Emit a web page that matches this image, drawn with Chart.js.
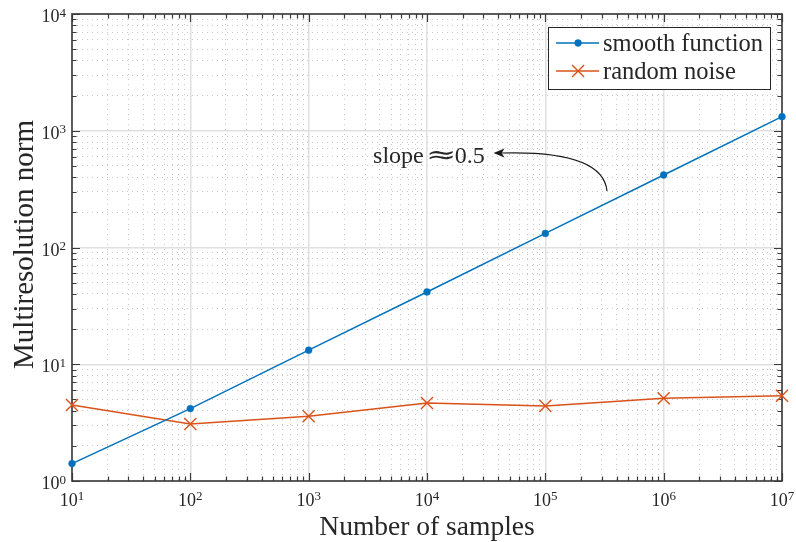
<!DOCTYPE html>
<html>
<head>
<meta charset="utf-8">
<script src="https://cdn.jsdelivr.net/npm/chart.js@4/dist/chart.umd.min.js"></script>
<style>
  html, body { margin: 0; padding: 0; background: #fff; }
  #wrap { width: 796px; height: 542px; }
</style>
</head>
<body>
<div id="wrap"><canvas id="c" width="796" height="542"></canvas></div>
<script>
// Multiresolution norm versus number of samples
const sampleCounts = [1e1, 1e2, 1e3, 1e4, 1e5, 1e6, 1e7];
const smoothNorm = [1.41, 4.17, 13.2, 41.6, 132, 418, 1320];
const noiseNorm = [4.48, 3.08, 3.58, 4.66, 4.40, 5.11, 5.38];
const seriesNames = ['smooth function', 'random noise'];
const xTickExponents = [1, 2, 3, 4, 5, 6, 7];
const yTickExponents = [0, 1, 2, 3, 4];
const xTitle = 'Number of samples';
const yTitle = 'Multiresolution norm';
const slopeWords = ['slope', '\u2248', '0.5'];

// annotation anchors in data coordinates
const slopeLabelAt = { x: 3500, y: 530 };
const slopeArrowFrom = { x: 3.32e5, y: 305 };
const slopeArrowTo = { x: 3.65e4, y: 645 };

const INK = '#262626';
const SERIF = '"Liberation Serif", "Times New Roman", serif';
const BLUE = '#0072BD';
const RED = '#D95319';

const pow10 = e => Math.pow(10, e);
function decadeMinors(exps) {
  const out = [];
  for (let i = 0; i < exps.length - 1; i++) {
    for (let m = 2; m <= 9; m++) out.push(m * pow10(exps[i]));
  }
  return out;
}
const xMajor = xTickExponents.map(pow10);
const yMajor = yTickExponents.map(pow10);
const xMinor = decadeMinors(xTickExponents);
const yMinor = decadeMinors(yTickExponents);

function logAxis(vals, lo, hi, opts) {
  return Object.assign({
    type: 'logarithmic',
    min: lo,
    max: hi,
    afterBuildTicks: s => { s.ticks = vals.map(v => ({ value: v })); },
    ticks: { display: false },
  }, opts);
}

function drawMarker(ctx, ds, x, y) {
  ctx.save();
  ctx.fillStyle = ds.pointBackgroundColor;
  ctx.strokeStyle = ds.borderColor;
  ctx.lineWidth = ds.pointBorderWidth;
  Chart.helpers.drawPoint(ctx, {
    pointStyle: ds.pointStyle, radius: ds.pointRadius, borderWidth: ds.pointBorderWidth, rotation: 0
  }, x, y);
  ctx.restore();
}

// inward tick marks, axes box, tick labels, titles and legend
const framePlugin = {
  id: 'frame',
  beforeDatasetsDraw(chart) {
    const { ctx, chartArea: a, scales } = chart;
    ctx.save();
    ctx.strokeStyle = '#3a3a3a';
    ctx.lineWidth = 1.2;
    ctx.beginPath();
    const vTicks = (vals, len) => vals.forEach(v => {
      const p = Math.round(scales.x.getPixelForValue(v)) + 0.5;
      ctx.moveTo(p, a.bottom); ctx.lineTo(p, a.bottom - len);
      ctx.moveTo(p, a.top); ctx.lineTo(p, a.top + len);
    });
    const hTicks = (vals, len) => vals.forEach(v => {
      const p = Math.round(scales.y.getPixelForValue(v)) + 0.5;
      ctx.moveTo(a.left, p); ctx.lineTo(a.left + len, p);
      ctx.moveTo(a.right, p); ctx.lineTo(a.right - len, p);
    });
    vTicks(xMajor, 8); vTicks(xMinor, 4.5);
    hTicks(yMajor, 8); hTicks(yMinor, 4.5);
    ctx.stroke();
    ctx.lineWidth = 1.6;
    ctx.strokeRect(a.left, a.top, a.right - a.left, a.bottom - a.top);
    ctx.restore();
  },
  afterDraw(chart) {
    const { ctx, chartArea: a, scales } = chart;
    ctx.save();
    ctx.fillStyle = INK;
    ctx.textBaseline = 'alphabetic';
    const baseFont = '18px ' + SERIF;
    const expFont = '13px ' + SERIF;
    const measure = (t, f) => { ctx.font = f; return ctx.measureText(t).width; };

    // x tick labels: 10 with raised exponent, centred on the tick
    xTickExponents.forEach(e => {
      const px = scales.x.getPixelForValue(pow10(e));
      const wb = measure('10', baseFont), we = measure(String(e), expFont);
      const x0 = px - (wb + we) / 2;
      ctx.textAlign = 'left';
      ctx.font = baseFont; ctx.fillText('10', x0, a.bottom + 25);
      ctx.font = expFont; ctx.fillText(String(e), x0 + wb, a.bottom + 19);
    });
    // y tick labels, right aligned left of the axis
    yTickExponents.forEach(e => {
      const py = scales.y.getPixelForValue(pow10(e));
      const we = measure(String(e), expFont);
      const xr = a.left - 6;
      ctx.textAlign = 'right';
      ctx.font = expFont; ctx.fillText(String(e), xr, py + 2.5);
      ctx.font = baseFont; ctx.fillText('10', xr - we, py + 8);
    });

    // axis titles
    ctx.textAlign = 'center';
    ctx.font = '27.5px ' + SERIF;
    ctx.fillText(xTitle, (a.left + a.right) / 2, a.bottom + 54);
    ctx.save();
    ctx.font = '29px ' + SERIF;
    ctx.translate(33, (a.top + a.bottom) / 2 - 3);
    ctx.rotate(-Math.PI / 2);
    ctx.fillText(yTitle, 0, 0);
    ctx.restore();

    // legend box
    const lf = '24.5px ' + SERIF;
    const tw = Math.max(...seriesNames.map(n => measure(n, lf)));
    const bw = 55 + tw + 7, bh = 62;
    const bx = a.right - 12 - bw, by = a.top + 13;
    ctx.fillStyle = '#fff';
    ctx.fillRect(bx, by, bw, bh);
    ctx.strokeStyle = '#262626';
    ctx.lineWidth = 1;
    ctx.strokeRect(Math.round(bx) + 0.5, Math.round(by) + 0.5, Math.round(bw), bh);
    chart.data.datasets.forEach((ds, i) => {
      const ly = by + 16 + i * 28;
      ctx.strokeStyle = ds.borderColor;
      ctx.lineWidth = ds.borderWidth;
      ctx.beginPath();
      ctx.moveTo(bx + 8, ly); ctx.lineTo(bx + 51, ly);
      ctx.stroke();
      drawMarker(ctx, ds, bx + 30, ly);
      ctx.fillStyle = INK;
      ctx.font = lf;
      ctx.textAlign = 'left';
      ctx.fillText(ds.label, bx + 55, ly + 8);
    });
    ctx.restore();
  }
};

// "slope ≈ 0.5" note with a curved arrow pointing at it
const notePlugin = {
  id: 'note',
  afterDatasetsDraw(chart) {
    const { ctx, scales } = chart;
    const px = p => ({ x: scales.x.getPixelForValue(p.x), y: scales.y.getPixelForValue(p.y) });
    const lab = px(slopeLabelAt);
    const from = px(slopeArrowFrom);
    const to = px(slopeArrowTo);
    ctx.save();
    ctx.fillStyle = INK;
    ctx.textAlign = 'left';
    ctx.textBaseline = 'alphabetic';
    const f = '24px ' + SERIF;
    ctx.font = f;
    ctx.fillText(slopeWords[0], lab.x, lab.y);
    let x = lab.x + ctx.measureText(slopeWords[0]).width + 5;
    // wide approximately-equal sign
    ctx.font = '25px "DejaVu Serif", serif';
    const m = ctx.measureText(slopeWords[1]);
    const inkW = m.actualBoundingBoxRight + m.actualBoundingBoxLeft;
    const sx = 25 / inkW;
    ctx.save();
    ctx.translate(x + m.actualBoundingBoxLeft * sx, lab.y - 8 + (m.actualBoundingBoxAscent - m.actualBoundingBoxDescent) / 2);
    ctx.scale(sx, 1);
    ctx.fillText(slopeWords[1], 0, 0);
    ctx.restore();
    x += 26;
    ctx.font = f;
    ctx.fillText(slopeWords[2], x, lab.y);

    // arrow
    ctx.strokeStyle = '#1a1a1a';
    ctx.fillStyle = '#1a1a1a';
    ctx.lineWidth = 1.2;
    ctx.beginPath();
    ctx.moveTo(from.x, from.y);
    ctx.quadraticCurveTo(from.x - 4, to.y - 3, to.x + 7, to.y);
    ctx.stroke();
    ctx.beginPath();
    ctx.moveTo(to.x, to.y);
    ctx.lineTo(to.x + 11, to.y - 4.5);
    ctx.lineTo(to.x + 8, to.y);
    ctx.lineTo(to.x + 11, to.y + 4.5);
    ctx.closePath();
    ctx.fill();
    ctx.restore();
  }
};

const pts = ys => sampleCounts.map((x, i) => ({ x, y: ys[i] }));

new Chart(document.getElementById('c'), {
  type: 'line',
  data: {
    datasets: [
      {
        label: seriesNames[0],
        data: pts(smoothNorm),
        borderColor: BLUE,
        backgroundColor: BLUE,
        pointBackgroundColor: BLUE,
        borderWidth: 1.5,
        pointStyle: 'circle',
        pointRadius: 3.4,
        pointBorderWidth: 0.5,
        clip: false,
        tension: 0,
      },
      {
        label: seriesNames[1],
        data: pts(noiseNorm),
        borderColor: RED,
        backgroundColor: RED,
        pointBackgroundColor: RED,
        borderWidth: 1.5,
        pointStyle: 'crossRot',
        pointRadius: 8.5,
        pointBorderWidth: 1.4,
        clip: false,
        tension: 0,
      }
    ]
  },
  options: {
    responsive: false,
    animation: false,
    devicePixelRatio: 1,
    layout: { padding: { left: 0, right: 14, top: 14, bottom: 0 } },
    plugins: { legend: { display: false }, tooltip: { enabled: false } },
    events: [],
    scales: {
      xMinor: logAxis(xMinor, 10, 1e7, {
        position: 'bottom',
        afterFit: s => { s.height = 0; },
        grid: { color: '#c8c8c8', lineWidth: 1, drawTicks: false },
        border: { display: false, dash: [1, 4] },
      }),
      yMinor: logAxis(yMinor, 1, 1e4, {
        position: 'left',
        afterFit: s => { s.width = 0; },
        grid: { color: '#c8c8c8', lineWidth: 1, drawTicks: false },
        border: { display: false, dash: [1, 4] },
      }),
      x: logAxis(xMajor, 10, 1e7, {
        position: 'bottom',
        afterFit: s => { s.height = 61; },
        grid: { color: '#e0e0e0', lineWidth: 1.5, drawTicks: false },
        border: { display: false },
      }),
      y: logAxis(yMajor, 1, 1e4, {
        position: 'left',
        afterFit: s => { s.width = 72; },
        grid: { color: '#e0e0e0', lineWidth: 1.5, drawTicks: false },
        border: { display: false },
      }),
    }
  },
  plugins: [framePlugin, notePlugin]
});
</script>
</body>
</html>
